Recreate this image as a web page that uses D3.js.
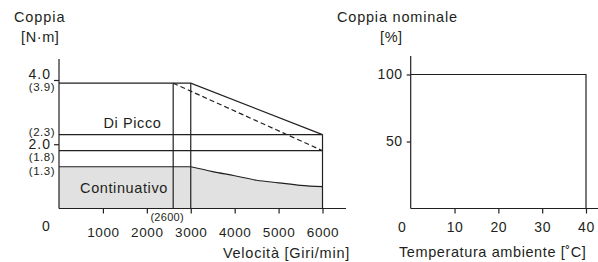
<!DOCTYPE html>
<html><head><meta charset="utf-8">
<script src="https://cdn.jsdelivr.net/npm/d3@7"></script>
<style>
body{margin:0;background:#fff;}
svg text{font-family:"Liberation Sans",Arial,Helvetica,sans-serif;fill:#231f20;}
</style></head>
<body><svg id="c" width="598" height="262"></svg>
<script>
// ---- data ----
const speedTicks = [1000, 2000, 3000, 4000, 5000, 6000];
const torqueTicks = [2.0, 4.0];
const torqueMarks = [3.9, 2.3, 1.8, 1.3];
const peakSpeed = [0, 3000, 6000];
const peakTorque = [3.9, 3.9, 2.3];
const dashSpeed = [2600, 6000];
const dashTorque = [3.9, 1.8];
const contSpeed = [0, 3000, 3500, 4000, 4500, 5000, 5500, 6000];
const contTorque = [1.3, 1.3, 1.15, 1.02, 0.88, 0.8, 0.72, 0.68];
const kneeSpeed = 2600;
const tempTicks = [0, 10, 20, 30, 40];
const ratedTicks = [50, 100];
const tempX = [0, 40, 40];
const ratedY = [100, 100, 0];

const ink = "#231f20", fillGray = "#e1e1e1";
const svg = d3.select("#c");

// ---- left chart ----
const x = d3.scaleLinear().domain([0, 6000]).range([59, 322.5]);
const y = d3.scaleLinear().domain([0, 4]).range([208.5, 80]);
const L = svg.append("g");

const flatIdx = contSpeed.filter(s => s <= 3000).length;
const contPts = contSpeed.map((s, i) => [s, contTorque[i]]);
const flatPts = contPts.slice(0, flatIdx);
const curvePts = contPts.slice(flatIdx - 1);
const areaLin = d3.area().x(d => x(d[0])).y0(y(0)).y1(d => y(d[1]));
const areaMono = d3.area().x(d => x(d[0])).y0(y(0)).y1(d => y(d[1])).curve(d3.curveMonotoneX);
L.append("path").attr("d", areaLin(flatPts)).attr("fill", fillGray);
L.append("path").attr("d", areaMono(curvePts)).attr("fill", fillGray);

const line = d3.line().x(d => x(d[0])).y(d => y(d[1]));
const lineMono = d3.line().x(d => x(d[0])).y(d => y(d[1])).curve(d3.curveMonotoneX);
const st = sel => sel.attr("fill", "none").attr("stroke", ink).attr("stroke-width", 1.2);

L.append("path").attr("d", line(flatPts)).call(st);
L.append("path").attr("d", lineMono(curvePts)).call(st);

[2.3, 1.8].forEach(v => {
  L.append("line").attr("x1", x(0)).attr("x2", x(6000)).attr("y1", y(v)).attr("y2", y(v)).call(st);
});
L.append("path").attr("d", line(peakSpeed.map((s, i) => [s, peakTorque[i]]))).call(st);
L.append("path").attr("d", line(dashSpeed.map((s, i) => [s, dashTorque[i]]))).call(st).attr("stroke-dasharray", "5,3");
L.append("line").attr("x1", x(kneeSpeed)).attr("x2", x(kneeSpeed)).attr("y1", y(0)).attr("y2", y(3.9)).call(st);
L.append("line").attr("x1", x(3000)).attr("x2", x(3000)).attr("y1", y(0)).attr("y2", y(3.9)).call(st);
L.append("line").attr("x1", x(6000)).attr("x2", x(6000)).attr("y1", y(0)).attr("y2", y(2.3)).call(st);

// axes
const xAx = L.append("g").attr("transform", `translate(0,${y(0)})`)
  .call(d3.axisBottom(x).tickValues(speedTicks).tickFormat(d3.format("d")).tickSize(5).tickSizeOuter(0).tickPadding(14));
xAx.select(".domain").remove();
xAx.append("line").attr("x1", x(0)).attr("x2", 346).attr("y1", 0).attr("y2", 0).call(st);
xAx.selectAll(".tick line").attr("stroke", ink).attr("stroke-width", 1.2);
xAx.selectAll(".tick text").style("font-size", "13.5px").style("letter-spacing", "0.6px").attr("fill", ink);

const yAx = L.append("g").attr("transform", `translate(${x(0)},0)`)
  .call(d3.axisLeft(y).tickValues(torqueTicks).tickSize(5).tickFormat(d3.format(".1f")).tickPadding(3));
yAx.select(".domain").remove();
yAx.append("line").attr("x1", 0).attr("x2", 0).attr("y1", y(0)).attr("y2", 59).call(st);
yAx.selectAll(".tick line").attr("stroke", ink).attr("stroke-width", 1.2);
yAx.selectAll(".tick text").style("font-size", "14px").style("letter-spacing", "1px").attr("fill", ink)
  .attr("dy", d => d === 4 ? "-0.1em" : "0.32em");

const markNudge = {3.9: 7.6, 2.3: 1.0, 1.8: 10.0, 1.3: 8.5};
torqueMarks.forEach(v => {
  L.append("text").attr("x", 55).attr("y", y(v) + markNudge[v]).attr("text-anchor", "end")
    .style("font-size", "11.5px").style("letter-spacing", "0.5px").text(`(${v.toFixed(1)})`);
});
L.append("text").attr("x", 46).attr("y", 231).attr("text-anchor", "middle").style("font-size", "14px").text("0");
L.append("text").attr("x", x(kneeSpeed) - 6).attr("y", 221).attr("text-anchor", "middle")
  .style("font-size", "11px").style("letter-spacing", "0.3px").text(`(${kneeSpeed})`);

L.append("text").attr("x", 132.5).attr("y", 128).attr("text-anchor", "middle").style("font-size", "14.5px").style("letter-spacing", "0.6px").text("Di Picco");
L.append("text").attr("x", 124).attr("y", 193).attr("text-anchor", "middle").style("font-size", "14.5px").style("letter-spacing", "0.6px").text("Continuativo");
L.append("text").attr("x", 14).attr("y", 22).style("font-size", "14.5px").style("letter-spacing", "0.9px").text("Coppia");
L.append("text").attr("x", 21).attr("y", 42).style("font-size", "14.5px").style("letter-spacing", "0.6px").text("[N·m]");
L.append("text").attr("x", 350).attr("y", 258).attr("text-anchor", "end").style("font-size", "14.5px").style("letter-spacing", "0.75px").text("Velocità [Giri/min]");

// ---- right chart ----
const tx = d3.scaleLinear().domain([0, 40]).range([410.7, 586]);
const ty = d3.scaleLinear().domain([0, 100]).range([208.5, 74.5]);
const R = svg.append("g");
R.append("path").attr("d", d3.line().x(d => tx(d[0])).y(d => ty(d[1]))(tempX.map((t, i) => [t, ratedY[i]]))).call(st);

const txAx = R.append("g").attr("transform", `translate(0,${ty(0)})`)
  .call(d3.axisBottom(tx).tickValues(tempTicks.filter(t => t > 0)).tickSize(5).tickSizeOuter(0).tickPadding(9));
txAx.select(".domain").remove();
txAx.append("line").attr("x1", tx(0)).attr("x2", 598).attr("y1", 0).attr("y2", 0).call(st);
txAx.selectAll(".tick line").attr("stroke", ink).attr("stroke-width", 1.2);
txAx.selectAll(".tick text").style("font-size", "14px").style("letter-spacing", "0.6px").attr("fill", ink);
R.append("text").attr("x", 402).attr("y", 232).attr("text-anchor", "middle").style("font-size", "14px").text(tempTicks[0]);

const tyAx = R.append("g").attr("transform", `translate(${tx(0)},0)`)
  .call(d3.axisLeft(ty).tickValues(ratedTicks).tickSize(4).tickPadding(4));
tyAx.select(".domain").remove();
tyAx.append("line").attr("x1", 0).attr("x2", 0).attr("y1", ty(0)).attr("y2", 56).call(st);
tyAx.selectAll(".tick line").attr("stroke", ink).attr("stroke-width", 1.2);
tyAx.selectAll(".tick text").style("font-size", "14px").style("letter-spacing", "0.6px").attr("fill", ink);

R.append("text").attr("x", 337).attr("y", 22).style("font-size", "14.5px").style("letter-spacing", "0.8px").text("Coppia nominale");
R.append("text").attr("x", 380).attr("y", 42).style("font-size", "14.5px").style("letter-spacing", "0.6px").text("[%]");
R.append("text").attr("x", 399).attr("y", 257).style("font-size", "14.5px").style("letter-spacing", "0.6px").text("Temperatura ambiente [˚C]");
</script></body></html>
